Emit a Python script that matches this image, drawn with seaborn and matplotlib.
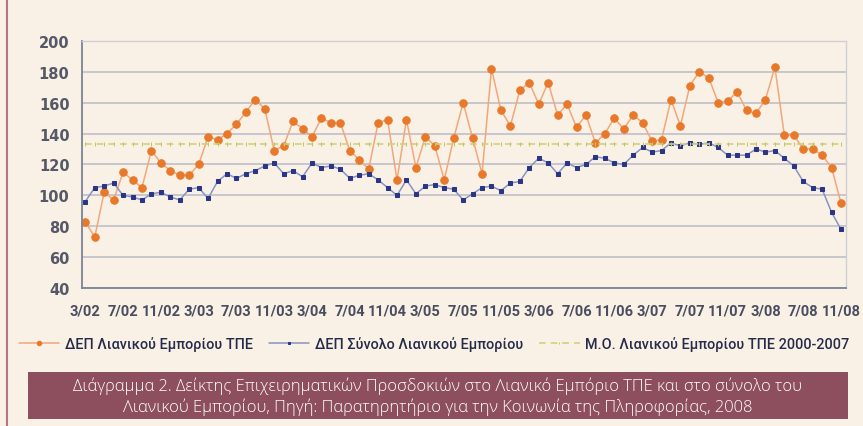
import matplotlib
matplotlib.use("Agg")
import matplotlib.pyplot as plt
from matplotlib.lines import Line2D
from matplotlib.patches import Rectangle
import seaborn as sns
import pandas as pd

# monthly index values, 3/02 .. 11/08
months = [f"{m}/{y:02d}" for y in range(2, 9) for m in range(1, 13)
          if not (y == 2 and m < 3) and not (y == 8 and m > 11)]

ict_retail = [83, 73, 102, 97, 115, 110, 105, 129, 121, 116, 113, 113,
              120, 138, 136, 140, 146, 154, 162, 156, 129, 132, 148, 143,
              138, 150, 147, 147, 129, 123, 117, 147, 149, 110, 149, 118,
              138, 132, 110, 137, 160, 137, 114, 182, 155, 145, 168, 173,
              159, 173, 152, 159, 144, 152, 134, 140, 150, 143, 152, 147,
              135, 136, 162, 145, 171, 180, 176, 160, 161, 167, 155, 153,
              162, 183, 139, 139, 130, 130, 126, 118, 95]

total_retail = [96, 105, 106, 108, 100, 99, 97, 101, 102, 99, 97, 104,
                105, 98, 109, 114, 111, 114, 116, 119, 121, 114, 116, 112,
                121, 118, 119, 117, 111, 113, 114, 110, 105, 100, 110, 101,
                106, 107, 105, 104, 97, 101, 105, 106, 103, 108, 109, 118,
                124, 121, 114, 121, 118, 120, 125, 124, 121, 120, 126, 131,
                128, 129, 134, 132, 134, 133, 134, 131, 126, 126, 126, 130,
                128, 129, 124, 119, 109, 105, 104, 89, 78]

ict_avg_2000_2007 = 133.3

labels = ["ΔΕΠ Λιανικού Εμπορίου ΤΠΕ", "ΔΕΠ Σύνολο Λιανικού Εμπορίου",
          "Μ.Ο. Λιανικού Εμπορίου ΤΠΕ 2000-2007"]
caption = ("Διάγραμμα 2. Δείκτης Επιχειρηματικών Προσδοκιών στο Λιανικό Εμπόριο ΤΠΕ και στο σύνολο του\n"
           "Λιανικού Εμπορίου, Πηγή: Παρατηρητήριο για την Κοινωνία της Πληροφορίας, 2008")

df = pd.DataFrame({"i": range(len(months)), "ict": ict_retail, "total": total_retail})
df["avg"] = ict_avg_2000_2007

bg = "#faf1e6"
sns.set_style("white")
narrow = ["Roboto", "DejaVu Sans"]

fig = plt.figure(figsize=(8.63, 4.27), dpi=100, facecolor=bg)
ax = fig.add_axes([0.095, 0.323, 0.885, 0.579], facecolor=bg)

sns.lineplot(data=df, x="i", y="ict", ax=ax, color="#f2a77a", lw=1.1,
             marker="o", markersize=5.4, markerfacecolor="#e8792a",
             markeredgecolor="#e8792a", label=labels[0])
sns.lineplot(data=df, x="i", y="total", ax=ax, color="#8793c4", lw=1.1,
             marker="s", markersize=3.4, markerfacecolor="#2b3585",
             markeredgecolor="#2b3585", label=labels[1])
sns.lineplot(data=df, x="i", y="avg", ax=ax, color="#cdd27a", lw=1.2,
             linestyle=(0, (4, 3)), marker="|", markersize=3,
             markeredgecolor="#c2c860", label=labels[2])

ax.set_xlim(-0.35, 80.5)
ax.set_ylim(40, 200)
ax.set_yticks(range(40, 201, 20))
ax.set_xticks(range(0, len(months), 4))
ax.set_xticklabels(months[::4])
ax.set_xlabel("")
ax.set_ylabel("")
ax.yaxis.grid(True, color="#c3c3cb", lw=1.3)
ax.set_axisbelow(True)

for s in ["top", "right"]:
    ax.spines[s].set_color("#cfcfd4")
    ax.spines[s].set_linewidth(1)
for s in ["left", "bottom"]:
    ax.spines[s].set_color("#7d8296")
    ax.spines[s].set_linewidth(1.3)

ax.tick_params(axis="y", length=5, width=1, color="#7d8296", labelsize=10.5,
               labelcolor="#555866", pad=4)
ax.tick_params(axis="x", length=5, width=1, color="#7d8296", labelsize=10.5,
               labelcolor="#4a4d5e", pad=6)
for t in ax.get_yticklabels():
    t.set_fontweight("bold")
for t in ax.get_xticklabels():
    t.set_fontweight("bold")
    t.set_family(narrow)

ax.get_legend().remove()
handles, _ = ax.get_legend_handles_labels()
fig.legend(handles, labels, loc="center", bbox_to_anchor=(0.503, 0.192), ncol=3,
           frameon=False, handlelength=2.8, columnspacing=1.1, handletextpad=0.4,
           markerscale=0.6,
           prop={"family": narrow, "size": 10.4, "weight": "medium"}, labelcolor="#262b4a")

# left frame line and caption box
fig.lines.append(Line2D([0.008, 0.008], [0, 1], transform=fig.transFigure,
                        color="#b27684", lw=1.5))
fig.patches.append(Rectangle((0.0325, 0.016), 0.95, 0.11, transform=fig.transFigure,
                             facecolor="#8d4e5d", edgecolor="none"))
fig.text(0.5075, 0.071, caption, ha="center", va="center", color="white",
         fontsize=11.9, family=["Open Sans", "DejaVu Sans"], fontweight="light",
         linespacing=1.25)

fig.savefig("out.png", dpi=100, facecolor=bg)
